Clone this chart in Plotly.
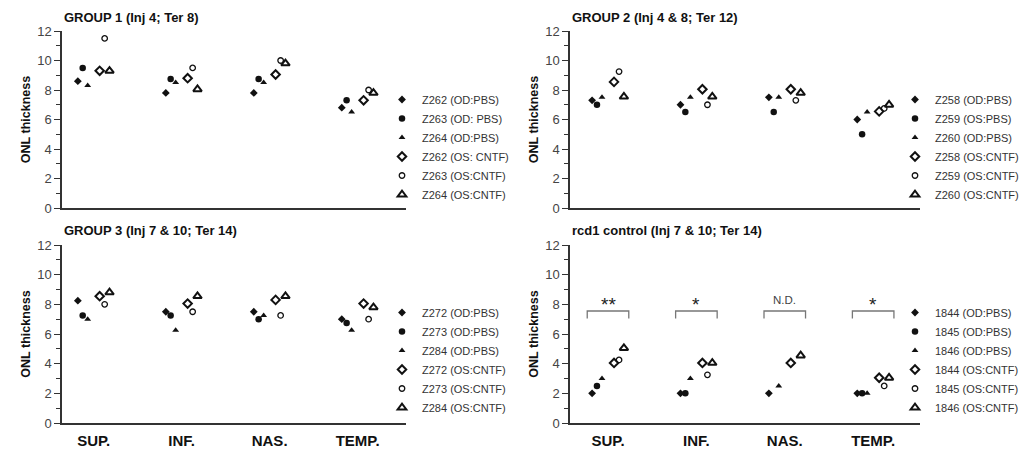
import plotly.graph_objects as go

# ---------------- data ----------------
regions = ["SUP.", "INF.", "NAS.", "TEMP."]

g1_title = "GROUP 1 (Inj 4; Ter 8)"
g1_names = ["Z262 (OD:PBS)", "Z263 (OD: PBS)", "Z264 (OD:PBS)",
            "Z262 (OS: CNTF)", "Z263 (OS:CNTF)", "Z264 (OS:CNTF)"]
g1_vals = [
    [8.6, 7.8, 7.8, 6.8],
    [9.5, 8.75, 8.75, 7.3],
    [8.3, 8.5, 8.5, 6.5],
    [9.3, 8.8, 9.05, 7.3],
    [11.5, 9.5, 10.0, 8.0],
    [9.3, 8.05, 9.8, 7.8],
]

g2_title = "GROUP 2 (Inj 4 & 8; Ter 12)"
g2_names = ["Z258 (OD:PBS)", "Z259 (OS:PBS)", "Z260 (OD:PBS)",
            "Z258 (OS:CNTF)", "Z259 (OS:CNTF)", "Z260 (OS:CNTF)"]
g2_vals = [
    [7.3, 7.0, 7.5, 6.0],
    [7.0, 6.5, 6.5, 5.0],
    [7.5, 7.5, 7.5, 6.5],
    [8.55, 8.05, 8.05, 6.55],
    [9.25, 7.0, 7.3, 6.75],
    [7.55, 7.55, 7.8, 7.0],
]

g3_title = "GROUP 3 (Inj 7 & 10; Ter 14)"
g3_names = ["Z272 (OD:PBS)", "Z273 (OD:PBS)", "Z284 (OD:PBS)",
            "Z272 (OS:CNTF)", "Z273 (OS:CNTF)", "Z284 (OS:CNTF)"]
g3_vals = [
    [8.25, 7.5, 7.5, 7.0],
    [7.25, 7.25, 7.0, 6.75],
    [7.0, 6.25, 7.25, 6.25],
    [8.55, 8.05, 8.3, 8.05],
    [8.0, 7.5, 7.25, 7.0],
    [8.8, 8.55, 8.55, 7.8],
]

g4_title = "rcd1 control (Inj 7 & 10; Ter 14)"
g4_names = ["1844 (OD:PBS)", "1845 (OD:PBS)", "1846 (OD:PBS)",
            "1844 (OS:CNTF)", "1845 (OS:CNTF)", "1846 (OS:CNTF)"]
g4_vals = [
    [2.0, 2.0, 2.0, 2.0],
    [2.5, 2.0, None, 2.0],
    [3.0, 3.0, 2.5, 2.0],
    [4.05, 4.05, 4.05, 3.05],
    [4.25, 3.25, None, 2.5],
    [5.05, 4.05, 4.55, 3.05],
]
g4_sig = ["**", "*", "N.D.", "*"]

# ---------------- style ----------------
OFF = 8                      # page body margin
W, H = 1032 - OFF, 451 - OFF
INK = "#111111"
series_offsets = [-0.18, -0.125, -0.068, 0.068, 0.125, 0.18]
series_markers = [
    dict(symbol="diamond", size=6, color=INK),
    dict(symbol="circle", size=6.5, color=INK),
    dict(symbol="triangle-up", size=6, color=INK),
    dict(symbol="diamond-open", size=6.5, color=INK, line=dict(width=2, color=INK)),
    dict(symbol="circle-open", size=5.5, color=INK, line=dict(width=1.3, color=INK)),
    dict(symbol="triangle-up-open", size=7.5, color=INK, line=dict(width=2, color=INK)),
]


def fx(p):
    return (p - OFF) / W


def fy(p):
    return 1 - (p - OFF) / H


panels = [
    dict(title=g1_title, names=g1_names, vals=g1_vals, px=(62, 406), py=(31, 208),
         xr=[-0.36, 3.55], labels=False, leg=(382, 85)),
    dict(title=g2_title, names=g2_names, vals=g2_vals, px=(570, 920), py=(31, 208),
         xr=[-0.43, 3.53], labels=False, leg=(895, 85)),
    dict(title=g3_title, names=g3_names, vals=g3_vals, px=(62, 406), py=(245, 423),
         xr=[-0.36, 3.55], labels=True, leg=(382, 298)),
    dict(title=g4_title, names=g4_names, vals=g4_vals, px=(570, 920), py=(245, 423),
         xr=[-0.43, 3.53], labels=True, leg=(895, 298)),
]

fig = go.Figure()
layout = dict(
    width=W, height=H, margin=dict(l=0, r=0, t=0, b=0, autoexpand=False),
    paper_bgcolor="white", plot_bgcolor="white",
    font=dict(family="Liberation Sans, Arial, sans-serif", color="#222"),
    annotations=[], shapes=[],
)

for k, p in enumerate(panels):
    n = k + 1
    xa = "x" if n == 1 else f"x{n}"
    ya = "y" if n == 1 else f"y{n}"
    leg = "legend" if n == 1 else f"legend{n}"
    for s in range(6):
        xs, ys = [], []
        for i, v in enumerate(p["vals"][s]):
            xs.append(i + series_offsets[s])
            ys.append(v)
        fig.add_trace(go.Scatter(
            x=xs, y=ys, mode="markers", name=p["names"][s],
            marker=series_markers[s], xaxis=xa, yaxis=ya, legend=leg,
            cliponaxis=False,
        ))
    x0, x1 = p["px"]
    ytop, ybot = p["py"]
    layout["xaxis" if n == 1 else f"xaxis{n}"] = dict(
        domain=[fx(x0), fx(x1)], range=p["xr"], anchor=ya, automargin=False,
        showgrid=False, zeroline=False, showline=True, linecolor="#333", linewidth=1.5,
        tickvals=list(range(len(regions))), ticktext=regions,
        showticklabels=p["labels"], ticks="",
        tickfont=dict(size=15, color="#111", family="Liberation Sans, Arial, sans-serif",
                      weight="bold"),
        ticklabelstandoff=3,
    )
    layout["yaxis" if n == 1 else f"yaxis{n}"] = dict(
        domain=[fy(ybot), fy(ytop)], range=[0, 12], anchor=xa, automargin=False,
        showgrid=False, zeroline=False, showline=True, linecolor="#333", linewidth=1.5,
        tickvals=[0, 2, 4, 6, 8, 10, 12], ticks="outside", ticklen=6, tickwidth=1.2,
        tickcolor="#333", tickfont=dict(size=13, color="#444"),
        minor=dict(tickvals=[1, 3, 5, 7, 9, 11], ticks="outside", ticklen=4,
                   tickwidth=1.2, tickcolor="#333", showgrid=False),
        title=dict(text="ONL thickness", font=dict(size=12.5, color="#111", weight="bold"),
                   standoff=4),
    )
    lx, ly = p["leg"]
    layout[leg] = dict(
        x=fx(lx), y=fy(ly), xanchor="left", yanchor="top",
        xref="paper", yref="paper",
        font=dict(size=11, color="#333"), bgcolor="rgba(0,0,0,0)",
        itemclick=False, tracegroupgap=0, itemwidth=30,
    )
    layout["annotations"].append(dict(
        text=p["title"], x=fx(x0), y=fy(ytop - 14), xref="paper", yref="paper",
        xanchor="left", yanchor="middle", showarrow=False,
        font=dict(size=13, color="#111", weight="bold"),
    ))

# significance brackets in rcd1 panel
bracket_low, bracket_high, bracket_half = 7.05, 7.55, 0.235
for i, lab in enumerate(g4_sig):
    fig.add_trace(go.Scatter(
        x=[i - bracket_half, i - bracket_half, i + bracket_half, i + bracket_half],
        y=[bracket_low, bracket_high, bracket_high, bracket_low],
        mode="lines", line=dict(color="#777", width=1.3), showlegend=False,
        xaxis="x4", yaxis="y4", hoverinfo="skip",
    ))
    is_nd = lab == "N.D."
    layout["annotations"].append(dict(
        text=lab, x=i, y=8.3 if is_nd else 8.0, xref="x4", yref="y4",
        showarrow=False, yanchor="middle",
        font=dict(size=11.5 if is_nd else 19, color="#444" if is_nd else "#222"),
    ))

fig.update_layout(**layout)
fig.write_html("out.html")
